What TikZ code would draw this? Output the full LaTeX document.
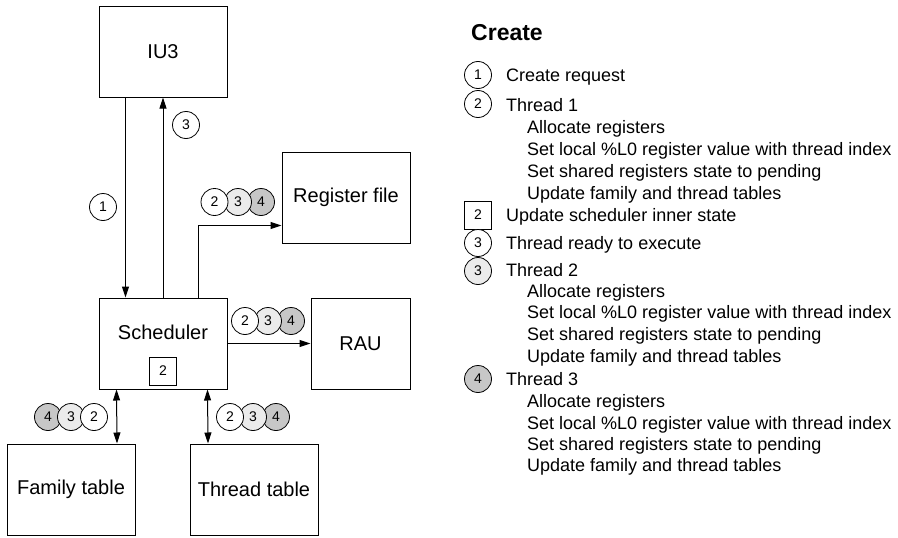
\documentclass[tikz,border=0pt]{standalone}
\usepackage{fontspec}
\setmainfont{Liberation Sans}
\usetikzlibrary{arrows.meta}

\begin{document}
\begin{tikzpicture}[x=1pt,y=-1pt]
        \tikzstyle{block}=[draw,line width=1pt,minimum width=128pt,minimum height=91pt,inner sep=0pt,font=\fontsize{20}{24}\selectfont]
        \tikzstyle{tok}=[draw,line width=0.8pt,circle,fill=white,minimum size=27pt,inner sep=0pt,font=\fontsize{14}{16}\selectfont]
        \tikzstyle{tok3}=[tok,fill=black!8]
        \tikzstyle{tok4}=[tok,fill=black!22]
        \tikzstyle{ibox}=[draw,line width=0.8pt,fill=white,minimum width=27pt,minimum height=28pt,inner sep=0pt,font=\fontsize{14}{16}\selectfont]
        \tikzstyle{leg}=[anchor=base west,inner sep=0pt,font=\fontsize{18}{21}\selectfont]
        \tikzstyle{arr}=[line width=1pt,-{Triangle[length=11pt,width=7pt]}]
        \tikzstyle{darr}=[line width=1pt,{Triangle[length=11pt,width=7pt]}-{Triangle[length=11pt,width=7pt]}]

        \useasboundingbox (0,0) rectangle (898,538);

        % units
        \draw (163,51.5) node[block] (iu) {IU3};
        \draw (346,197.5) node[block] (rf) {Register file};
        \draw (163,343.5) node[block] (sch) {};
        \draw (163,332) node[font=\fontsize{20}{24}\selectfont] (schl) {Scheduler};
        \draw (163,371) node[ibox] (sb) {2};
        \draw (360.5,343.5) node[block,minimum width=99pt] (rau) {RAU};
        \draw (71,489.5) node[block] (ft) {Family table};
        \draw (254,489.5) node[block] (tt) {Thread table};

        \draw[arr] ([xshift=27pt]iu.south west) -- ([xshift=27pt]sch.north west);
        \draw[arr] (sch.north) -- (iu.south);
        \draw[arr] ([xshift=100pt]sch.north west) |- ([yshift=18pt]rf.south west);
        \draw[arr] (sch.east) -- (rau.west);
        \draw[darr] ([xshift=18pt]sch.south west) -- ([xshift=46pt]ft.north);
        \draw[darr] ([xshift=109pt]sch.south west) -- ([xshift=-46pt]tt.north);

        \draw (103,207) node[tok] (c1) {1};
        \draw (186,125) node[tok] (c3) {3};

        \draw (261,202) node[tok4] (rf4) {4};
        \draw (238,202) node[tok3] (rf3) {3};
        \draw (214.5,202) node[tok] (rf2) {2};
        \draw (291,321) node[tok4] (rau4) {4};
        \draw (268,321) node[tok3] (rau3) {3};
        \draw (245,321) node[tok] (rau2) {2};
        \draw (48,417) node[tok4] (ft4) {4};
        \draw (71,417) node[tok3] (ft3) {3};
        \draw (94,417) node[tok] (ft2) {2};
        \draw (276,417) node[tok4] (tt4) {4};
        \draw (253,417) node[tok3] (tt3) {3};
        \draw (230,417) node[tok] (tt2) {2};

        % legend
        \draw (471,41) node[anchor=base west,inner sep=0pt,font=\bfseries\fontsize{23}{26}\selectfont] (hd) {Create};
        \draw (478,75) node[tok] (m1) {1};
        \draw (478,104) node[tok] (m2) {2};
        \draw (478,215) node[ibox] (m3) {2};
        \draw (478,243) node[tok] (m4) {3};
        \draw (478,271) node[tok3] (m5) {3};
        \draw (478,379) node[tok4] (m6) {4};

        \draw (506,81.5) node[leg] (l1) {Create request};
        \draw (506,111.5) node[leg] (l2) {Thread 1};
        \draw (527,133.5) node[leg] (l3) {Allocate registers};
        \draw (527,155.5) node[leg] (l4) {Set local \%L0 register value with thread index};
        \draw (527,177.5) node[leg] (l5) {Set shared registers state to pending};
        \draw (527,199.5) node[leg] (l6) {Update family and thread tables};
        \draw (506,221.5) node[leg] (l7) {Update scheduler inner state};
        \draw (506,249.5) node[leg] (l8) {Thread ready to execute};
        \draw (506,276.5) node[leg] (l9) {Thread 2};
        \draw (527,297.5) node[leg] (l10) {Allocate registers};
        \draw (527,318.5) node[leg] (l11) {Set local \%L0 register value with thread index};
        \draw (527,340.5) node[leg] (l12) {Set shared registers state to pending};
        \draw (527,362.5) node[leg] (l13) {Update family and thread tables};
        \draw (506,385.5) node[leg] (l14) {Thread 3};
        \draw (527,407.5) node[leg] (l15) {Allocate registers};
        \draw (527,429.5) node[leg] (l16) {Set local \%L0 register value with thread index};
        \draw (527,450.5) node[leg] (l17) {Set shared registers state to pending};
        \draw (527,471.5) node[leg] (l18) {Update family and thread tables};
    \end{tikzpicture}
\end{document}
